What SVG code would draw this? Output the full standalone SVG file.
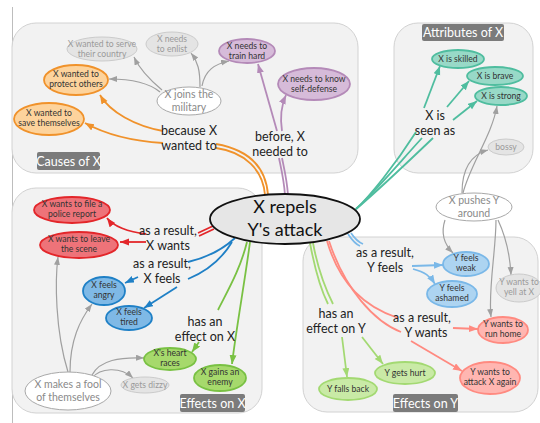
<svg xmlns="http://www.w3.org/2000/svg" width="540" height="423" viewBox="0 0 540 423">
<defs>
<style>
.panel{fill:#f2f2f2;stroke:#d2d2d2;stroke-width:1}
.plab{fill:#7b7b7b}
.plt{font-family:Lato,"Open Sans",sans-serif;font-size:12.5px;fill:#fff;text-anchor:middle}
.nt{font-family:Lato,"Open Sans",sans-serif;font-size:8.6px;fill:#333;text-anchor:middle}
.gt{fill:#9a9a9a}
.wt{font-size:10.5px;fill:#8a8a8a}
.el{font-family:Lato,"Open Sans",sans-serif;font-size:12.5px;fill:#222;text-anchor:middle}
.e{fill:none;stroke-width:1.8}
.g{fill:none;stroke:#a0a0a0;stroke-width:1.2}
.or{stroke:#f0922b}.pu{stroke:#b48ab8}.te{stroke:#4fbd9f}.re{stroke:#e3262a}
.bl{stroke:#1f80c6}.gr{stroke:#79c143}.lg{stroke:#a3d972}.sa{stroke:#ff8a80}.lb{stroke:#7ab8e8}
.n-or{fill:#fdd39c;stroke:#f0922b;stroke-width:1.8}
.n-pu{fill:#d6bbd9;stroke:#b48ab8;stroke-width:1.8}
.n-te{fill:#98d9c7;stroke:#4fbd9f;stroke-width:1.8}
.n-re{fill:#ee7379;stroke:#e3262a;stroke-width:1.8}
.n-bl{fill:#7fb9e6;stroke:#1f80c6;stroke-width:1.8}
.n-gr{fill:#a6d96c;stroke:#79c143;stroke-width:1.8}
.n-lg{fill:#c9eaa6;stroke:#a3d972;stroke-width:1.8}
.n-sa{fill:#ffb6b1;stroke:#ff8a80;stroke-width:1.8}
.n-lb{fill:#add4f1;stroke:#7ab8e8;stroke-width:1.8}
.n-gy{fill:#e4e4e4;stroke:#cbcbcb;stroke-width:1}
.n-wh{fill:#fff;stroke:#a8a8a8;stroke-width:1}
</style>
<marker id="m-or" markerUnits="userSpaceOnUse" markerWidth="10" markerHeight="8" refX="9" refY="3.5" orient="auto"><path d="M0,0 L9,3.5 L0,7 z" fill="#f0922b"/></marker>
<marker id="m-pu" markerUnits="userSpaceOnUse" markerWidth="10" markerHeight="8" refX="9" refY="3.5" orient="auto"><path d="M0,0 L9,3.5 L0,7 z" fill="#b48ab8"/></marker>
<marker id="m-te" markerUnits="userSpaceOnUse" markerWidth="10" markerHeight="8" refX="9" refY="3.5" orient="auto"><path d="M0,0 L9,3.5 L0,7 z" fill="#4fbd9f"/></marker>
<marker id="m-re" markerUnits="userSpaceOnUse" markerWidth="10" markerHeight="8" refX="9" refY="3.5" orient="auto"><path d="M0,0 L9,3.5 L0,7 z" fill="#e3262a"/></marker>
<marker id="m-bl" markerUnits="userSpaceOnUse" markerWidth="10" markerHeight="8" refX="9" refY="3.5" orient="auto"><path d="M0,0 L9,3.5 L0,7 z" fill="#1f80c6"/></marker>
<marker id="m-gr" markerUnits="userSpaceOnUse" markerWidth="10" markerHeight="8" refX="9" refY="3.5" orient="auto"><path d="M0,0 L9,3.5 L0,7 z" fill="#79c143"/></marker>
<marker id="m-lg" markerUnits="userSpaceOnUse" markerWidth="10" markerHeight="8" refX="9" refY="3.5" orient="auto"><path d="M0,0 L9,3.5 L0,7 z" fill="#a3d972"/></marker>
<marker id="m-sa" markerUnits="userSpaceOnUse" markerWidth="10" markerHeight="8" refX="9" refY="3.5" orient="auto"><path d="M0,0 L9,3.5 L0,7 z" fill="#ff8a80"/></marker>
<marker id="m-lb" markerUnits="userSpaceOnUse" markerWidth="10" markerHeight="8" refX="9" refY="3.5" orient="auto"><path d="M0,0 L9,3.5 L0,7 z" fill="#7ab8e8"/></marker>
<marker id="m-g" markerUnits="userSpaceOnUse" markerWidth="9" markerHeight="7" refX="8" refY="3" orient="auto"><path d="M0,0 L8,3 L0,6 z" fill="#a0a0a0"/></marker>
</defs>
<rect width="540" height="423" fill="#fff"/>
<line x1="12.5" y1="7" x2="12.5" y2="423" stroke="#bdbdbd" stroke-width="1"/>

<g id="panels">
<rect class="panel" x="12" y="23" width="346" height="150" rx="24"/>
<rect class="plab" x="37" y="152" width="63" height="18" rx="2"/>
<text class="plt" x="68.5" y="165.5">Causes of X</text>
<rect class="panel" x="394" y="23" width="139" height="150" rx="24"/>
<rect class="plab" x="422" y="24" width="82" height="17" rx="2"/>
<text class="plt" x="463" y="37">Attributes of X</text>
<rect class="panel" x="12" y="188" width="250" height="225" rx="24"/>
<rect class="plab" x="180" y="394" width="65" height="18" rx="2"/>
<text class="plt" x="212.5" y="407.5">Effects on X</text>
<rect class="panel" x="303" y="237" width="235" height="175" rx="24"/>
<rect class="plab" x="393" y="394" width="65" height="18" rx="2"/>
<text class="plt" x="425.5" y="407.5">Effects on Y</text>
</g>

<g id="connectors">
<path class="e or" d="M268,195 C266,168 250,150 216,144"/>
<path class="e or" d="M265,195 C263,170 245,152 216,148"/>
<path class="e or" d="M163,131 C135,126 110,112 100,95" marker-end="url(#m-or)"/>
<path class="e or" d="M163,143 C130,141 105,134 85,123" marker-end="url(#m-or)"/>
<path class="e pu" d="M285,195 C284,180 281,168 279,158"/>
<path class="e pu" d="M288,195 C287,180 284,168 282,158"/>
<path class="e pu" d="M277,131 L258,64" marker-end="url(#m-pu)"/>
<path class="e pu" d="M282,131 C280,118 281,106 286,95" marker-end="url(#m-pu)"/>
<path class="e te" d="M356,209 C370,196 395,165 416,132"/>
<path class="e te" d="M356,209 C372,195 400,162 422,138"/>
<path class="e te" d="M356,209 C374,194 410,160 433,138"/>
<path class="e te" d="M424,108 L440,66" marker-end="url(#m-te)"/>
<path class="e te" d="M447,107 L469,81" marker-end="url(#m-te)"/>
<path class="e te" d="M453,120 L477,101" marker-end="url(#m-te)"/>
<path class="e re" d="M213,226 L198,233"/>
<path class="e re" d="M214,229 L199,236"/>
<path class="e re" d="M146,234 C128,232 113,226 107,218" marker-end="url(#m-re)"/>
<path class="e re" d="M146,242 L120,242" marker-end="url(#m-re)"/>
<path class="e bl" d="M235,238 C220,252 205,258 188,262"/>
<path class="e bl" d="M232,242 C220,262 205,272 188,279"/>
<path class="e bl" d="M138,277 L125,283" marker-end="url(#m-bl)"/>
<path class="e bl" d="M177,287 L144,308" marker-end="url(#m-bl)"/>
<path class="e gr" d="M247,242 C240,270 228,290 218,310"/>
<path class="e gr" d="M250,242 C245,280 236,330 232,364" marker-end="url(#m-gr)"/>
<path class="e gr" d="M199,342 L192,352" marker-end="url(#m-gr)"/>
<path class="e lg" d="M310,243 C315,270 321,290 328,304"/>
<path class="e lg" d="M313,243 C318,270 326,290 333,304"/>
<path class="e lg" d="M342,337 L347,377" marker-end="url(#m-lg)"/>
<path class="e lg" d="M362,337 L383,364" marker-end="url(#m-lg)"/>
<path class="e sa" d="M327,241 C340,285 365,307 398,318"/>
<path class="e sa" d="M329,241 C345,290 375,322 401,332"/>
<path class="e sa" d="M453,328 L478,329" marker-end="url(#m-sa)"/>
<path class="e sa" d="M411,341 L462,371" marker-end="url(#m-sa)"/>
<path class="e lb" d="M348,234 C352,240 355,244 360,246"/>
<path class="e lb" d="M351,233 C355,239 358,242 363,244"/>
<path class="e lb" d="M412,266 L443,265" marker-end="url(#m-lb)"/>
<path class="e lb" d="M413,269 C425,272 430,276 435,284" marker-end="url(#m-lb)"/>
<path class="g" d="M162,90 C150,80 140,70 134,57" marker-end="url(#m-g)"/>
<path class="g" d="M160,92 C148,82 130,79 109,79" marker-end="url(#m-g)"/>
<path class="g" d="M200,87 C200,70 198,62 191,53" marker-end="url(#m-g)"/>
<path class="g" d="M202,86 C205,70 215,64 229,61" marker-end="url(#m-g)"/>
<path class="g" d="M462,193 C462,170 470,155 488,150" marker-end="url(#m-g)"/>
<path class="g" d="M463,193 C470,165 492,135 497,106" marker-end="url(#m-g)"/>
<path class="g" d="M445,220 C440,235 445,245 453,253" marker-end="url(#m-g)"/>
<path class="g" d="M498,220 C505,235 510,255 511,275" marker-end="url(#m-g)"/>
<path class="g" d="M496,220 C496,250 488,290 491,317" marker-end="url(#m-g)"/>
<path class="g" d="M68,372 C55,330 55,280 58,257" marker-end="url(#m-g)"/>
<path class="g" d="M70,372 C70,340 80,320 92,304" marker-end="url(#m-g)"/>
<path class="g" d="M92,375 C100,360 120,357 144,358" marker-end="url(#m-g)"/>
<path class="g" d="M92,378 C100,368 120,366 133,378" marker-end="url(#m-g)"/>
</g>

<g id="edge-labels">
<text class="el" x="189" y="135">because X</text>
<text class="el" x="189" y="150">wanted to</text>
<text class="el" x="280" y="141">before, X</text>
<text class="el" x="280" y="156">needed to</text>
<text class="el" x="435" y="120">X is</text>
<text class="el" x="435" y="135">seen as</text>
<text class="el" x="168" y="235">as a result,</text>
<text class="el" x="168" y="250">X wants</text>
<text class="el" x="162" y="268">as a result,</text>
<text class="el" x="162" y="283">X feels</text>
<text class="el" x="205" y="326">has an</text>
<text class="el" x="205" y="341">effect on X</text>
<text class="el" x="385" y="257">as a result,</text>
<text class="el" x="385" y="272">Y feels</text>
<text class="el" x="336" y="318">has an</text>
<text class="el" x="336" y="333">effect on Y</text>
<text class="el" x="422" y="322">as a result,</text>
<text class="el" x="426" y="337">Y wants</text>
</g>

<g id="n-center">
<ellipse cx="285" cy="219" rx="75" ry="25" fill="#e6e6e6" stroke="#111" stroke-width="1.8"/>
<text x="285" y="213" font-family="Lato,'Open Sans',sans-serif" font-size="18" fill="#111" text-anchor="middle">X repels</text>
<text x="285" y="236" font-family="Lato,'Open Sans',sans-serif" font-size="18" fill="#111" text-anchor="middle">Y's attack</text>
</g>

<g id="n-serve"><ellipse class="n-gy" cx="102" cy="49" rx="35" ry="12"/><text class="nt gt" x="102" y="47">X wanted to serve</text><text class="nt gt" x="102" y="57">their country</text></g>
<g id="n-enlist"><ellipse class="n-gy" cx="172" cy="44" rx="26" ry="12"/><text class="nt gt" x="172" y="42">X needs</text><text class="nt gt" x="172" y="52">to enlist</text></g>
<g id="n-train"><ellipse class="n-pu" cx="247" cy="51" rx="28" ry="12"/><text class="nt" x="247" y="49">X needs to</text><text class="nt" x="247" y="59">train hard</text></g>
<g id="n-selfdef"><ellipse class="n-pu" cx="314" cy="84" rx="36" ry="16"/><text class="nt" x="314" y="82">X needs to know</text><text class="nt" x="314" y="92">self-defense</text></g>
<g id="n-protect"><ellipse class="n-or" cx="76" cy="80" rx="32" ry="15"/><text class="nt" x="76" y="77">X wanted to</text><text class="nt" x="76" y="87">protect others</text></g>
<g id="n-save"><ellipse class="n-or" cx="49" cy="119" rx="35" ry="16"/><text class="nt" x="49" y="116">X wanted to</text><text class="nt" x="49" y="126">save themselves</text></g>
<g id="n-military"><ellipse class="n-wh" cx="189" cy="101" rx="32" ry="14"/><text class="nt wt" x="189" y="98">X joins the</text><text class="nt wt" x="189" y="111">military</text></g>

<g id="n-skilled"><ellipse class="n-te" cx="458" cy="59" rx="26" ry="9"/><text class="nt" x="458" y="62">X is skilled</text></g>
<g id="n-brave"><ellipse class="n-te" cx="495" cy="76" rx="28" ry="9"/><text class="nt" x="495" y="79">X is brave</text></g>
<g id="n-strong"><ellipse class="n-te" cx="501" cy="96" rx="26" ry="9"/><text class="nt" x="501" y="99">X is strong</text></g>
<g id="n-bossy"><ellipse class="n-gy" cx="506" cy="147" rx="18" ry="8"/><text class="nt gt" x="506" y="150">bossy</text></g>
<g id="n-pushes"><ellipse class="n-wh" cx="474" cy="207" rx="38" ry="14"/><text class="nt wt" x="474" y="204">X pushes Y</text><text class="nt wt" x="474" y="217">around</text></g>

<g id="n-police"><ellipse class="n-re" cx="72" cy="210" rx="38" ry="13"/><text class="nt" x="72" y="207">X wants to file a</text><text class="nt" x="72" y="217">police report</text></g>
<g id="n-leave"><ellipse class="n-re" cx="79" cy="245" rx="39" ry="13"/><text class="nt" x="79" y="242">X wants to leave</text><text class="nt" x="79" y="252">the scene</text></g>
<g id="n-angry"><ellipse class="n-bl" cx="104" cy="291" rx="21" ry="14"/><text class="nt" x="104" y="288">X feels</text><text class="nt" x="104" y="298">angry</text></g>
<g id="n-tired"><ellipse class="n-bl" cx="129" cy="318" rx="23" ry="12"/><text class="nt" x="129" y="315">X feels</text><text class="nt" x="129" y="325">tired</text></g>
<g id="n-heart"><ellipse class="n-gr" cx="170" cy="359" rx="26" ry="11"/><text class="nt" x="170" y="356">X's heart</text><text class="nt" x="170" y="366">races</text></g>
<g id="n-enemy"><ellipse class="n-gr" cx="220" cy="378" rx="26" ry="13"/><text class="nt" x="220" y="375">X gains an</text><text class="nt" x="220" y="385">enemy</text></g>
<g id="n-dizzy"><ellipse class="n-gy" cx="145" cy="385" rx="24" ry="8"/><text class="nt gt" x="145" y="388">X gets dizzy</text></g>
<g id="n-fool"><ellipse class="n-wh" cx="68" cy="391" rx="43" ry="19"/><text class="nt wt" x="68" y="388">X makes a fool</text><text class="nt wt" x="68" y="401">of themselves</text></g>

<g id="n-weak"><ellipse class="n-lb" cx="466" cy="264" rx="23" ry="12"/><text class="nt" x="466" y="261">Y feels</text><text class="nt" x="466" y="271">weak</text></g>
<g id="n-ashamed"><ellipse class="n-lb" cx="452" cy="294" rx="25" ry="13"/><text class="nt" x="452" y="291">Y feels</text><text class="nt" x="452" y="301">ashamed</text></g>
<g id="n-yell"><ellipse class="n-gy" cx="519" cy="288" rx="23" ry="14"/><text class="nt gt" x="519" y="285">Y wants to</text><text class="nt gt" x="519" y="295">yell at X</text></g>
<g id="n-runhome"><ellipse class="n-sa" cx="503" cy="330" rx="25" ry="13"/><text class="nt" x="503" y="327">Y wants to</text><text class="nt" x="503" y="337">run home</text></g>
<g id="n-attack"><ellipse class="n-sa" cx="490" cy="378" rx="30" ry="16"/><text class="nt" x="490" y="375">Y wants to</text><text class="nt" x="490" y="385">attack X again</text></g>
<g id="n-hurt"><ellipse class="n-lg" cx="405" cy="373" rx="30" ry="11"/><text class="nt" x="405" y="376">Y gets hurt</text></g>
<g id="n-fallsback"><ellipse class="n-lg" cx="348" cy="389" rx="29" ry="11"/><text class="nt" x="348" y="392">Y falls back</text></g>
</svg>
